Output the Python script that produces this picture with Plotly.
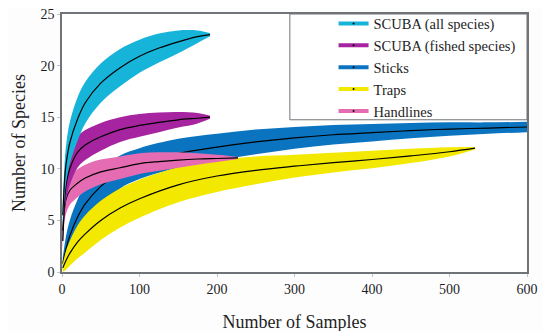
import plotly.graph_objects as go

# ---------------- data ----------------
scuba_all_x = [1, 3, 5, 10, 20, 30, 50, 75, 100, 125, 150, 175, 191]
scuba_all_mean = [5.5, 8.5, 10.3, 12.5, 14.8, 16.4, 18.3, 19.8, 20.9, 21.7, 22.3, 22.8, 23.0]
scuba_all_ci = [1.0, 1.6, 1.8, 2.0, 2.1, 2.0, 1.9, 1.8, 1.6, 1.4, 1.1, 0.6, 0.15]

scuba_fish_x = [1, 3, 5, 10, 20, 30, 50, 75, 100, 125, 150, 175, 191]
scuba_fish_mean = [3.0, 6.5, 8.3, 10.0, 11.6, 12.3, 13.1, 13.8, 14.2, 14.5, 14.75, 14.9, 15.0]
scuba_fish_ci = [0.8, 1.3, 1.5, 1.6, 1.5, 1.45, 1.35, 1.2, 1.1, 0.95, 0.75, 0.5, 0.15]

sticks_x = [1, 5, 10, 20, 30, 50, 75, 100, 150, 200, 250, 300, 350, 400, 450, 500, 550, 600]
sticks_mean = [0.8, 2.2, 3.5, 5.3, 6.6, 8.3, 9.7, 10.5, 11.5, 12.1, 12.6, 13.0, 13.3, 13.5, 13.7, 13.85, 13.95, 14.05]
sticks_ci = [0.6, 1.2, 1.5, 1.7, 1.8, 1.7, 1.6, 1.5, 1.4, 1.3, 1.2, 1.05, 0.95, 0.85, 0.75, 0.65, 0.55, 0.5]

traps_x = [1, 5, 10, 20, 30, 50, 75, 100, 150, 200, 250, 300, 350, 400, 450, 500, 533]
traps_mean = [0.4, 1.1, 1.8, 2.9, 3.7, 5.0, 6.2, 7.1, 8.45, 9.3, 9.85, 10.25, 10.6, 10.9, 11.25, 11.65, 12.0]
traps_ci = [0.4, 0.9, 1.2, 1.6, 1.8, 1.9, 1.9, 1.85, 1.7, 1.55, 1.35, 1.1, 0.95, 0.85, 0.7, 0.45, 0.12]

hand_x = [1, 3, 5, 10, 20, 30, 50, 75, 100, 125, 150, 175, 200, 227]
hand_mean = [4.0, 6.0, 7.0, 7.9, 8.6, 9.1, 9.7, 10.1, 10.5, 10.7, 10.85, 10.95, 11.0, 11.05]
hand_ci = [1.0, 1.3, 1.4, 1.4, 1.35, 1.3, 1.2, 1.1, 1.0, 0.9, 0.75, 0.55, 0.35, 0.1]

x_ticks = [0, 100, 200, 300, 400, 500, 600]
y_ticks = [0, 5, 10, 15, 20, 25]

series = [
    ("Sticks", sticks_x, sticks_mean, sticks_ci, "#0B74C0"),
    ("Traps", traps_x, traps_mean, traps_ci, "#F2E800"),
    ("Handlines", hand_x, hand_mean, hand_ci, "#E56CB2"),
    ("SCUBA (fished species)", scuba_fish_x, scuba_fish_mean, scuba_fish_ci, "#A6249F"),
    ("SCUBA (all species)", scuba_all_x, scuba_all_mean, scuba_all_ci, "#17B4DA"),
]
legend_order = ["SCUBA (all species)", "SCUBA (fished species)", "Sticks", "Traps", "Handlines"]

FONT = '"Liberation Serif", "Times New Roman", serif'

fig = go.Figure()
for name, xs, m, ci, col in series:
    lo = [a - b for a, b in zip(m, ci)]
    hi = [a + b for a, b in zip(m, ci)]
    fig.add_trace(go.Scatter(x=xs, y=lo, mode="lines", line=dict(width=0, color=col, shape="spline"),
                             showlegend=False, hoverinfo="skip"))
    fig.add_trace(go.Scatter(x=xs, y=hi, mode="lines", line=dict(width=0, color=col, shape="spline"),
                             fill="tonexty", fillcolor=col, showlegend=False, hoverinfo="skip"))
    fig.add_trace(go.Scatter(x=xs, y=m, mode="lines", line=dict(width=1.2, color="black", shape="spline"),
                             showlegend=False))

# legend entries
for name in legend_order:
    col = [s[4] for s in series if s[0] == name][0]
    fig.add_trace(go.Scatter(x=[None], y=[None], mode="lines+markers", name=name,
                             line=dict(color=col, width=4),
                             marker=dict(color="black", size=2)))

frame = "#707478"
tickfont = dict(family=FONT, size=14, color="#1E1E1E")
fig.update_layout(
    width=551, height=331,
    margin=dict(l=54, r=32, t=6, b=67, autoexpand=False),
    paper_bgcolor="#FDFDFE", plot_bgcolor="#FFFFFF",
    font=dict(family=FONT, color="#1E1E1E", size=14),
    showlegend=True,
    legend=dict(x=0.584, y=1.025, xanchor="left", yanchor="top", traceorder="normal",
                bgcolor="rgba(0,0,0,0)", font=dict(size=14.5, family=FONT, color="#1E1E1E"),
                tracegroupgap=0, itemwidth=30),
    shapes=[dict(type="rect", xref="paper", yref="paper", x0=0.49, x1=1.0, y0=0.59, y1=1.0,
                 line=dict(color=frame, width=1))],
)
fig.update_xaxes(range=[0, 600], tickvals=x_ticks, showgrid=False, zeroline=False,
                 showline=True, mirror=True, linecolor=frame, linewidth=1.5,
                 ticks="outside", ticklen=3, tickcolor="#C0C4C8", tickfont=tickfont,
                 automargin=False, ticklabeloverflow="allow",
                 title=dict(text="Number of Samples", font=dict(size=18, family=FONT), standoff=20))
fig.update_yaxes(range=[0, 25], tickvals=y_ticks, showgrid=False, zeroline=False,
                 showline=True, mirror=True, linecolor=frame, linewidth=1.5,
                 ticks="outside", ticklen=3, tickcolor="#C0C4C8", tickfont=tickfont,
                 automargin=False, ticklabeloverflow="allow",
                 title=dict(text="Number of Species", font=dict(size=18, family=FONT), standoff=10))

fig.write_html("out.html")
